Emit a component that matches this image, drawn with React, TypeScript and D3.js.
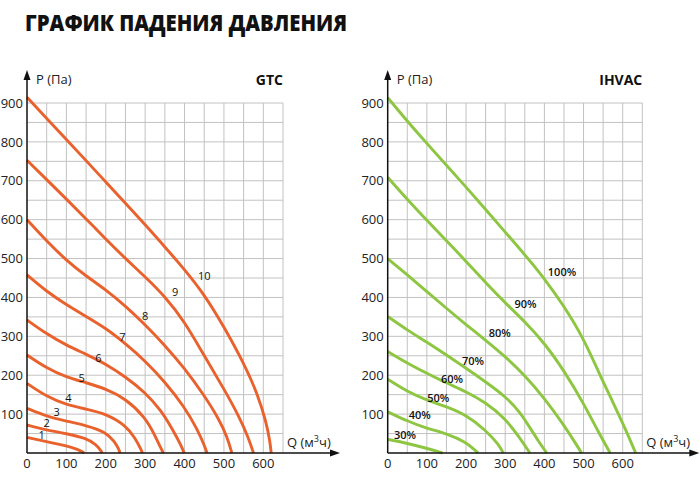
import React from "react";
import * as d3 from "d3";

// ---------- data ----------
const TITLE = "ГРАФИК ПАДЕНИЯ ДАВЛЕНИЯ";
const qTicks = [0, 100, 200, 300, 400, 500, 600];
const pTicks = [100, 200, 300, 400, 500, 600, 700, 800, 900];
const qGrid = [50, 100, 150, 200, 250, 300, 350, 400, 450, 500, 550, 600, 650];
const pGrid = [50, 100, 150, 200, 250, 300, 350, 400, 450, 500, 550, 600, 650, 700, 750, 800, 850, 900];

// GTC curves: [Q (m3/h), P (Pa)]
const gtc1 = [[0, 40], [50, 29], [100, 19], [128, 10], [142, 2], [145, 0]];
const gtc2 = [[0, 72], [50, 59], [100, 50], [150, 38], [175, 22], [188, 6], [191, 0]];
const gtc3 = [[0, 115], [50, 94], [100, 82], [150, 71], [200, 54], [222, 30], [234, 8], [236, 0]];
const gtc4 = [[0, 179], [50, 145], [100, 124], [150, 113], [200, 101], [250, 72], [275, 38], [290, 8], [293, 0]];
const gtc5 = [[0, 252], [50, 218], [100, 195], [150, 181], [200, 165], [250, 140], [300, 92], [325, 45], [340, 12], [346, 0]];
const gtc6 = [[0, 342], [50, 306], [100, 277], [150, 254], [200, 229], [250, 196], [300, 156], [340, 110], [370, 60], [391, 20], [399, 0]];
const gtc7 = [[0, 458], [50, 415], [100, 381], [150, 351], [200, 321], [250, 281], [300, 237], [350, 183], [400, 118], [432, 62], [451, 18], [457, 0]];
const gtc8 = [[0, 600], [50, 545], [100, 495], [150, 455], [200, 420], [250, 378], [300, 330], [350, 277], [400, 218], [450, 148], [487, 88], [509, 40], [520, 0]];
const gtc9 = [[0, 753], [50, 703], [100, 653], [150, 602], [200, 550], [250, 500], [300, 453], [350, 403], [400, 338], [450, 250], [500, 165], [538, 95], [562, 40], [575, 0]];
const gtc10 = [[0, 915], [50, 860], [100, 806], [150, 752], [200, 697], [250, 642], [300, 587], [350, 530], [400, 472], [450, 408], [500, 325], [550, 232], [587, 148], [607, 80], [617, 30], [620, 0]];
const gtcCurves = [gtc1, gtc2, gtc3, gtc4, gtc5, gtc6, gtc7, gtc8, gtc9, gtc10];
const gtcLabels = ["1", "2", "3", "4", "5", "6", "7", "8", "9", "10"];
const gtcLabelQ = [37, 50, 75, 105, 139, 181, 242, 300, 376, 450];
const gtcLabelP = [46, 76, 106, 142, 192, 244, 298, 351, 413, 455];

// IHVAC curves
const ih30 = [[0, 35], [50, 25], [100, 12], [140, 0]];
const ih40 = [[0, 106], [50, 82], [100, 63], [150, 50], [200, 28], [222, 8], [231, 0]];
const ih50 = [[0, 190], [50, 158], [100, 136], [150, 119], [200, 98], [250, 59], [284, 21], [295, 0]];
const ih60 = [[0, 261], [50, 231], [100, 205], [150, 180], [200, 158], [250, 130], [300, 89], [338, 38], [363, 0]];
const ih70 = [[0, 351], [50, 316], [100, 285], [150, 252], [200, 218], [250, 183], [300, 146], [338, 105], [360, 70], [385, 30], [406, 0]];
const ih80 = [[0, 500], [50, 458], [100, 415], [150, 372], [200, 330], [250, 290], [300, 248], [350, 200], [400, 141], [450, 72], [482, 21], [495, 0]];
const ih90 = [[0, 709], [50, 652], [100, 598], [150, 546], [200, 493], [250, 438], [300, 386], [350, 338], [400, 283], [450, 212], [500, 128], [540, 50], [568, 0]];
const ih100 = [[0, 914], [50, 853], [100, 796], [150, 740], [200, 684], [250, 626], [300, 568], [350, 510], [400, 449], [450, 378], [500, 295], [542, 200], [566, 150], [589, 100], [612, 50], [633, 0]];
const ihCurves = [ih30, ih40, ih50, ih60, ih70, ih80, ih90, ih100];
const ihLabels = ["30%", "40%", "50%", "60%", "70%", "80%", "90%", "100%"];
const ihLabelQ = [44, 82, 129, 164, 218, 286, 352, 445];
const ihLabelP = [47, 98, 140, 189, 235, 309, 383, 464];

// ---------- drawing ----------
const FONT = "'Open Sans', 'Noto Sans', sans-serif";

type Props = {
  x0: number;
  x1: number;
  name: string;
  color: string;
  curves: number[][][];
  labels: string[];
  labelQ: number[];
  labelP: number[];
  labelWeight: number;
};

function Panel({ x0, x1, name, color, curves, labels, labelQ, labelP, labelWeight }: Props) {
  const x = d3.scaleLinear().domain([0, 650]).range([x0, x1]);
  const y = d3.scaleLinear().domain([0, 900]).range([453, 103]);
  const line = d3
    .line<number[]>()
    .x((d) => x(d[0]))
    .y((d) => y(d[1]))
    .curve(d3.curveBasis);
  const axisTop = 72;
  const axisRight = x1 + 55;
  return (
    <g>
      {qGrid.map((q) => (
        <line key={"vq" + q} x1={x(q)} x2={x(q)} y1={y(0)} y2={y(900)} stroke="#c2c2c2" strokeWidth={1} />
      ))}
      {pGrid.map((p) => (
        <line key={"hp" + p} x1={x(0)} x2={x(650)} y1={y(p)} y2={y(p)} stroke="#c2c2c2" strokeWidth={1} />
      ))}
      {curves.map((c, i) => (
        <path key={"c" + i} d={line(c) || ""} fill="none" stroke={color} strokeWidth={2.9} strokeLinecap="butt" />
      ))}
      {labels.map((t, i) => (
        <text
          key={"l" + i}
          x={x(labelQ[i])}
          y={y(labelP[i])}
          dy="0.35em"
          textAnchor="middle"
          fontSize={11}
          fontWeight={labelWeight}
          fill="#111"
          fontFamily={FONT}
        >
          {t}
        </text>
      ))}
      {/* axes */}
      <line x1={x(0)} x2={x(0)} y1={y(0)} y2={axisTop + 6} stroke="#111" strokeWidth={1.5} />
      <path d={`M${x(0) - 3.5},${axisTop + 8} L${x(0)},${axisTop - 2} L${x(0) + 3.5},${axisTop + 8} Z`} fill="#111" />
      <line x1={x(0)} x2={axisRight - 6} y1={y(0)} y2={y(0)} stroke="#111" strokeWidth={1.5} />
      <path d={`M${axisRight - 8},${y(0) - 3.5} L${axisRight + 2},${y(0)} L${axisRight - 8},${y(0) + 3.5} Z`} fill="#111" />
      {pTicks.map((p) => (
        <text key={"pt" + p} x={x(0) - 4} y={y(p)} dy="0.36em" textAnchor="end" fontSize={13} fill="#222" fontFamily={FONT}>
          {p}
        </text>
      ))}
      {qTicks.map((q) => (
        <text key={"qt" + q} x={x(q)} y={468} textAnchor="middle" fontSize={13} fill="#222" fontFamily={FONT}>
          {q}
        </text>
      ))}
      <text x={x(0) + 9} y={84} fontSize={13} fill="#222" fontFamily={FONT}>
        P (Па)
      </text>
      <text x={x(650)} y={85} textAnchor="end" fontSize={14} fontWeight={700} fill="#111" fontFamily={FONT}>
        {name}
      </text>
      <text x={x(650) + 4} y={447} fontSize={13} fill="#222" fontFamily={FONT}>
        Q (м<tspan fontSize={9} dy={-5}>3</tspan>
        <tspan dy={5}>ч)</tspan>
      </text>
    </g>
  );
}

export default function App() {
  return (
    <svg
      width={700}
      height={490}
      viewBox="0 0 700 490"
      style={{ position: "absolute", left: 0, top: 0, background: "#fff" }}
    >
      <rect x={0} y={0} width={700} height={490} fill="#fff" />
      <text
        x={25}
        y={31}
        fontSize={23}
        fontWeight={800}
        fill="#111"
        textLength={322}
        lengthAdjust="spacingAndGlyphs"
        fontFamily="'Open Sans', 'Noto Sans', sans-serif"
      >
        {TITLE}
      </text>
      <Panel
        x0={27}
        x1={283}
        name="GTC"
        color="#E9622D"
        curves={gtcCurves}
        labels={gtcLabels}
        labelQ={gtcLabelQ}
        labelP={gtcLabelP}
        labelWeight={500}
      />
      <Panel
        x0={387.7}
        x1={642.3}
        name="IHVAC"
        color="#8DC641"
        curves={ihCurves}
        labels={ihLabels}
        labelQ={ihLabelQ}
        labelP={ihLabelP}
        labelWeight={600}
      />
    </svg>
  );
}
